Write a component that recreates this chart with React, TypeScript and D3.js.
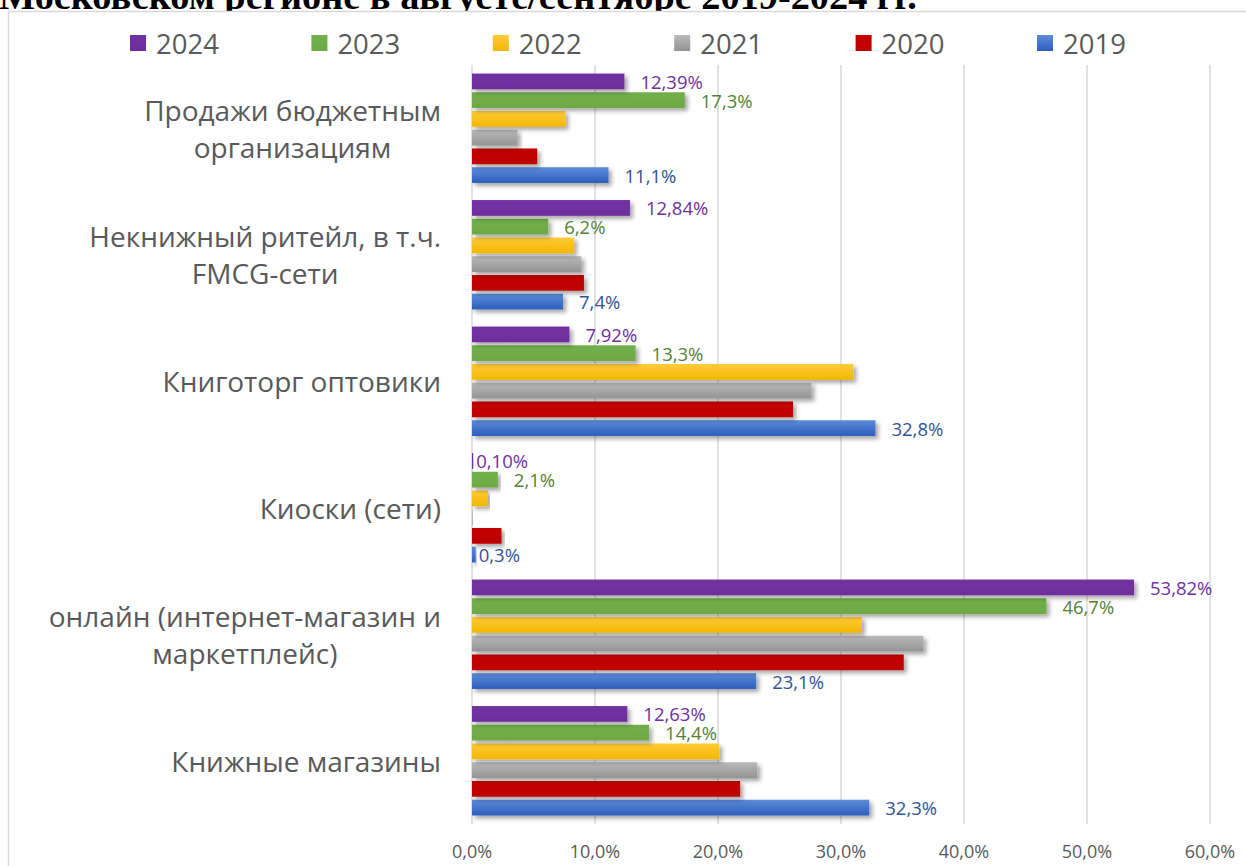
import React, { useEffect, useRef } from 'react';
import * as d3 from 'd3';

// категории в порядке Excel (снизу вверх)
const categories = [
  ['Книжные магазины'],
  ['онлайн (интернет-магазин и', 'маркетплейс)'],
  ['Киоски (сети)'],
  ['Книготорг оптовики'],
  ['Некнижный ритейл, в т.ч.', 'FMCG-сети'],
  ['Продажи бюджетным', 'организациям'],
];

const years = ['2019', '2020', '2021', '2022', '2023', '2024'];

const v2019 = [32.3, 23.1, 0.3, 32.8, 7.4, 11.1];
const v2020 = [21.8, 35.1, 2.4, 26.1, 9.1, 5.3];
const v2021 = [23.2, 36.7, 0.05, 27.6, 8.9, 3.7];
const v2022 = [20.1, 31.7, 1.3, 31.0, 8.3, 7.6];
const v2023 = [14.4, 46.7, 2.1, 13.3, 6.2, 17.3];
const v2024 = [12.63, 53.82, 0.1, 7.92, 12.84, 12.39];

// какие ряды подписаны и сколько знаков после запятой
const labelDigits = { '2019': 1, '2023': 1, '2024': 2 };

const xTicks = [0, 10, 20, 30, 40, 50, 60];

const title = 'Московском регионе в августе/сентябре 2019-2024 гг.';

const App = () => {
  const svgRef = useRef();

  useEffect(() => {
    const width = 1246;
    const height = 866;
    const svg = d3.select(svgRef.current);
    svg.selectAll('*').remove();

    const font = "'Open Sans', sans-serif";
    const series = [v2019, v2020, v2021, v2022, v2023, v2024];
    const colors = {
      '2019': ['#5c8cda', '#2d5ebd'],
      '2020': ['#c40000', '#bd0000'],
      '2021': ['#b9b9b9', '#939393'],
      '2022': ['#ffcb3a', '#f2b700'],
      '2023': ['#72ae49', '#6da944'],
      '2024': ['#7232a2', '#6d2e9c'],
    };
    const labelColors = { '2019': '#2f5597', '2023': '#548235', '2024': '#7030a0' };

    const defs = svg.append('defs');
    years.forEach(y => {
      const g = defs.append('linearGradient')
        .attr('id', 'grad' + y)
        .attr('x1', 0).attr('y1', 0).attr('x2', 0).attr('y2', 1);
      g.append('stop').attr('offset', '0%').attr('stop-color', colors[y][0]);
      g.append('stop').attr('offset', '100%').attr('stop-color', colors[y][1]);
    });
    defs.append('filter')
      .attr('id', 'shadow')
      .attr('x', '-5%').attr('y', '-30%').attr('width', '115%').attr('height', '190%')
      .append('feDropShadow')
      .attr('dx', 3).attr('dy', 3).attr('stdDeviation', 2)
      .attr('flood-color', '#000').attr('flood-opacity', 0.35);

    svg.append('rect')
      .attr('width', width).attr('height', height).attr('fill', 'white');

    // заголовок (обрезан сверху)
    svg.append('text')
      .attr('x', -1).attr('y', 8.5)
      .attr('font-family', "'Liberation Serif', 'Times New Roman', serif")
      .attr('font-weight', 'bold')
      .attr('font-size', 38.3)
      .attr('fill', '#000')
      .text(title);

    // рамка диаграммы
    svg.append('rect')
      .attr('x', 8.5).attr('y', 11.5)
      .attr('width', 1400).attr('height', 1000)
      .attr('fill', 'white')
      .attr('stroke', '#d9d9d9')
      .attr('stroke-width', 1.5);

    const x = d3.scaleLinear().domain([0, 60]).range([472, 1210]);

    const idx = d3.range(categories.length).reverse();
    const y0 = d3.scaleBand()
      .domain(idx)
      .range([65, 824])
      .paddingInner(0.135)
      .paddingOuter(0.0675);
    // внутри группы: 2024 сверху, 2019 снизу
    const y1 = d3.scaleBand()
      .domain(years.slice().reverse())
      .range([0, y0.bandwidth()])
      .paddingInner(0.16);

    // сетка
    svg.append('g')
      .selectAll('line')
      .data(xTicks)
      .enter()
      .append('line')
      .attr('x1', d => x(d)).attr('x2', d => x(d))
      .attr('y1', 65).attr('y2', 824)
      .attr('stroke', '#d9d9d9')
      .attr('stroke-width', 1.5);

    // подписи оси X
    svg.append('g')
      .selectAll('text')
      .data(xTicks)
      .enter()
      .append('text')
      .attr('x', d => x(d))
      .attr('y', 851)
      .attr('text-anchor', 'middle')
      .attr('dominant-baseline', 'central')
      .attr('font-family', font)
      .attr('font-size', 18)
      .attr('fill', '#595959')
      .text(d => d.toFixed(1).replace('.', ',') + '%');

    // столбцы
    const groups = svg.append('g')
      .selectAll('g')
      .data(idx)
      .enter()
      .append('g')
      .attr('transform', i => `translate(0,${y0(i)})`);

    groups.selectAll('rect')
      .data(i => years.map((yr, s) => ({ yr, v: series[s][i] })))
      .enter()
      .append('rect')
      .attr('x', x(0))
      .attr('y', d => y1(d.yr))
      .attr('width', d => x(d.v) - x(0))
      .attr('height', y1.bandwidth())
      .attr('fill', d => `url(#grad${d.yr})`)
      .attr('filter', 'url(#shadow)');

    // подписи данных
    groups.selectAll('text')
      .data(i => years
        .map((yr, s) => ({ yr, v: series[s][i] }))
        .filter(d => labelDigits[d.yr] !== undefined))
      .enter()
      .append('text')
      .attr('x', d => x(d.v) + (d.v < 1 ? 3 : 16))
      .attr('y', d => y1(d.yr) + y1.bandwidth() / 2)
      .attr('dominant-baseline', 'central')
      .attr('font-family', font)
      .attr('font-size', 18.5)
      .attr('fill', d => labelColors[d.yr])
      .text(d => d.v.toFixed(labelDigits[d.yr]).replace('.', ',') + '%');

    // подписи категорий: блок выровнен вправо, строки по центру
    const right = 441;
    const lineH = 37;
    idx.forEach(i => {
      const lines = categories[i];
      const cy = y0(i) + y0.bandwidth() / 2;
      const t = svg.append('g');
      const nodes = lines.map((ln, k) => t.append('text')
        .attr('y', cy + (k - (lines.length - 1) / 2) * lineH)
        .attr('dominant-baseline', 'central')
        .attr('font-family', font)
        .attr('font-size', 28)
        .attr('fill', '#595959')
        .text(ln));
      const maxW = d3.max(nodes, n => n.node().getComputedTextLength());
      nodes.forEach(n => n.attr('text-anchor', 'middle').attr('x', right - maxW / 2));
    });

    // легенда (обратный порядок)
    const legend = svg.append('g')
      .selectAll('g')
      .data(years.slice().reverse())
      .enter()
      .append('g')
      .attr('transform', (d, k) => `translate(${130 + k * 181.4},35)`);
    legend.append('rect')
      .attr('width', 16).attr('height', 16)
      .attr('fill', d => `url(#grad${d})`);
    legend.append('text')
      .attr('x', 26).attr('y', 8)
      .attr('dominant-baseline', 'central')
      .attr('font-family', font)
      .attr('font-size', 27.5)
      .attr('fill', '#595959')
      .text(d => d);
  }, []);

  return (
    <svg
      ref={svgRef}
      width="1246"
      height="866"
      style={{ position: 'absolute', left: 0, top: 0 }}
    ></svg>
  );
};

export default App;
